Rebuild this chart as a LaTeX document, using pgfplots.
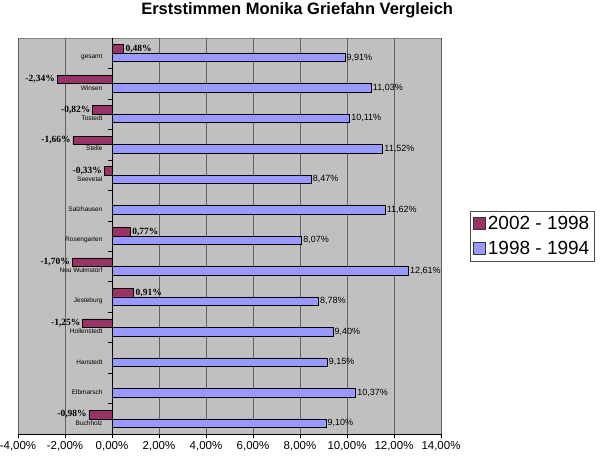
\documentclass[border=0pt]{standalone}
\usepackage{pgfplots}
\pgfplotsset{compat=1.18}
\usepackage{fontspec}
\setmainfont{Liberation Sans}
\newfontfamily\seriffont{Liberation Serif}
\definecolor{maroon}{HTML}{993366}
\definecolor{lblue}{HTML}{9999FF}
\definecolor{plotgray}{HTML}{C0C0C0}
\begin{document}
\begin{tikzpicture}
\path[use as bounding box] (-18pt,-22pt) rectangle (582pt,434pt);
\begin{axis}[
  at={(0pt,0pt)}, anchor=south west,
  scale only axis, width=423pt, height=396pt,
  xmin=-4, xmax=14, ymin=-0.5, ymax=12.5,
  axis x line=bottom, axis y line=middle,
  hide obscured x ticks=false, hide obscured y ticks=false,
  axis line style={-, black},
  axis background/.style={fill=plotgray, draw=gray},
  /pgf/number format/assume math mode=true,
  tick align=outside,
  major tick length=4pt,
  tick style={black, line width=0.5pt},
  xtick={-4,-2,...,14},
  xticklabels={{-4,00\%},{-2,00\%},{0,00\%},{2,00\%},{4,00\%},{6,00\%},{8,00\%},{10,00\%},{12,00\%},{14,00\%}},
  xticklabel style={font=\fontsize{11.5}{13}\selectfont},
  xmajorgrids,
  major grid style={draw=black!62, line width=0.8pt},
  ytick={0.5,1.5,...,11.5},
  yticklabels={},
  extra y ticks={0,1,...,12},
  extra y tick labels={Buchholz,Elbmarsch,Hanstedt,Hollenstedt,Jesteburg,Neu Wulmstorf,Rosengarten,Salzhausen,Seevetal,Stelle,Tostedt,Winsen,gesamt},
  extra y tick style={tick style={draw=none}, yticklabel style={font=\fontsize{6.5}{7}\selectfont, yshift=-4pt, xshift=-2pt}},
  xbar, bar width=8.5pt,
  legend image code/.code={\draw[#1,draw=black!80,line width=0.5pt] (0pt,-6pt) rectangle (12pt,6pt);},
  legend style={at={(1.069,0.5)}, anchor=west, draw=black!70, fill=white,
    font=\fontsize{19}{22}\selectfont, inner xsep=3pt, inner ysep=3pt,
    row sep=6pt, cells={anchor=west}},
  title={Erststimmen Monika Griefahn Vergleich},
  title style={at={(0.66,1.056)}, anchor=center, font=\bfseries\fontsize{16.5}{19}\selectfont},
  nodes near coords align={horizontal},
]
\addplot[fill=maroon, draw=black, line width=0.5pt, bar shift=4.25pt,
  nodes near coords={\pgfmathprintnumber[fixed,fixed zerofill,precision=2,use comma]{\pgfplotspointmeta}\%},
  every node near coord/.append style={font=\seriffont\bfseries\fontsize{9.5}{11}\selectfont, black, inner sep=2pt}]
  coordinates {(0.48,12) (-2.34,11) (-0.82,10) (-1.66,9) (-0.33,8) (0.77,6) (-1.70,5) (0.91,4) (-1.25,3) (-0.98,0)};
\addplot[fill=lblue, draw=black, line width=0.5pt, bar shift=-4.25pt,
  nodes near coords={\pgfmathprintnumber[fixed,fixed zerofill,precision=2,use comma]{\pgfplotspointmeta}\%},
  every node near coord/.append style={font=\fontsize{9}{10}\selectfont, black, inner sep=1.5pt}]
  coordinates {(9.91,12) (11.03,11) (10.11,10) (11.52,9) (8.47,8) (11.62,7) (8.07,6) (12.61,5) (8.78,4) (9.40,3) (9.15,2) (10.37,1) (9.10,0)};
\legend{2002 - 1998, 1998 - 1994}
\end{axis}
\end{tikzpicture}
\end{document}
